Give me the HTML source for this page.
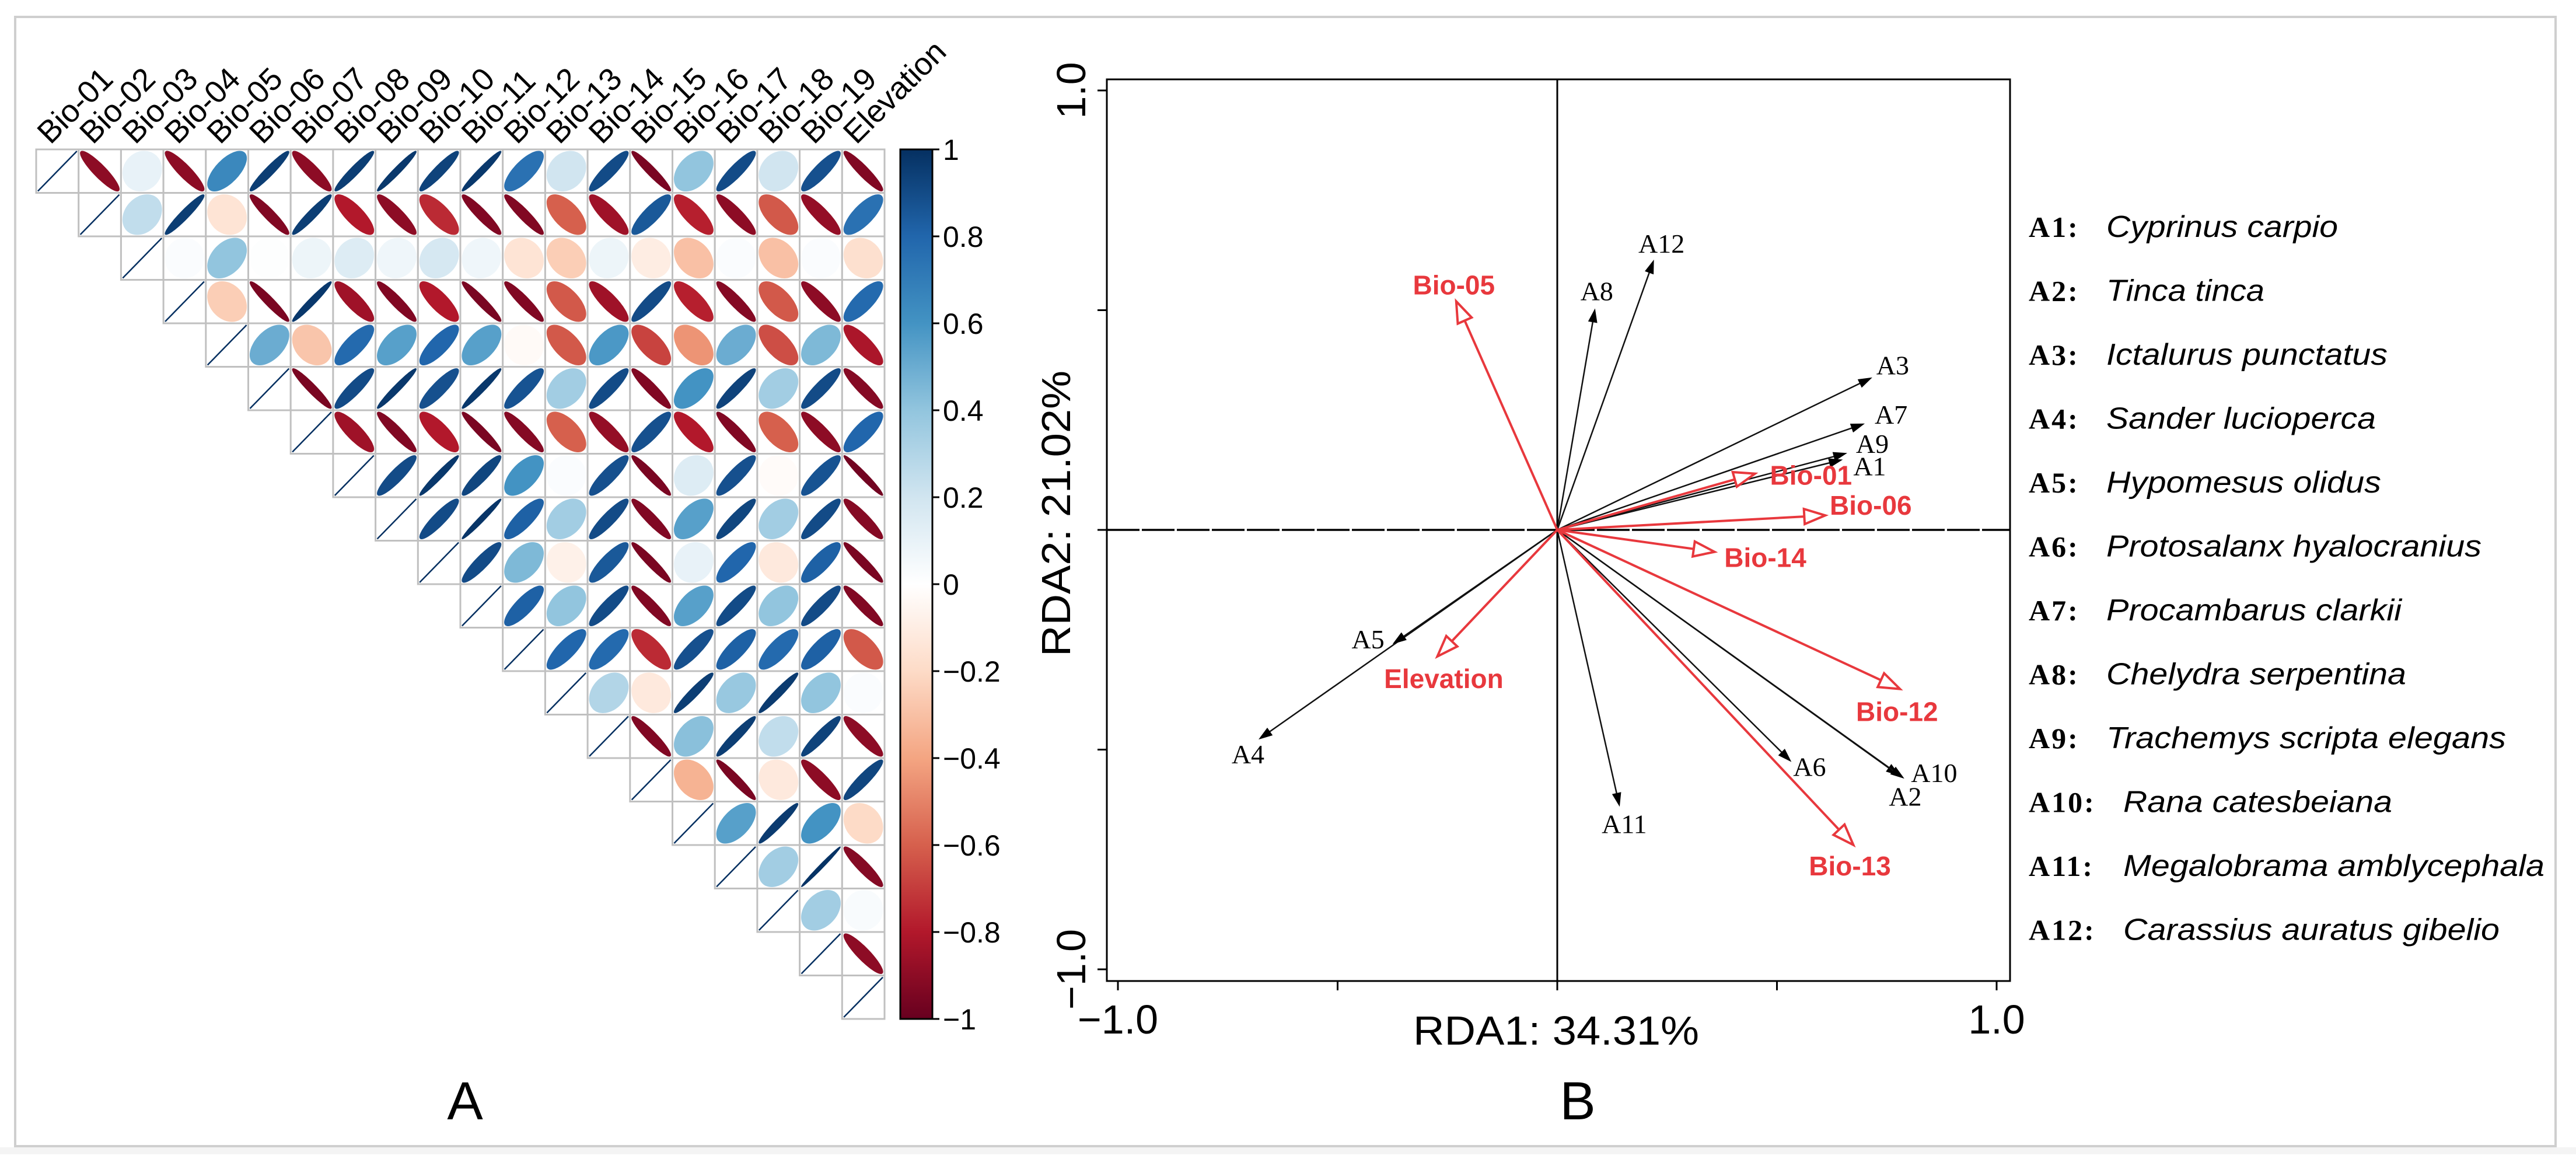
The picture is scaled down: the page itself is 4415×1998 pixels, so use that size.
<!DOCTYPE html>
<html><head><meta charset="utf-8">
<style>
html,body{margin:0;padding:0;background:#fff;}
svg{display:block;}
</style></head>
<body>
<svg id="fig" xmlns="http://www.w3.org/2000/svg" width="4415" height="1998" viewBox="0 0 4415 1998">
<rect x="0" y="1966" width="4415" height="12" fill="#f4f4f4"/>
<rect x="26" y="29" width="4354" height="1935" fill="#fff" stroke="#cfcfcf" stroke-width="4"/>
<g id="panelA"></g>
<g id="panelB"></g>
<text x="797" y="1918" font-family="Liberation Sans, sans-serif" font-size="92" text-anchor="middle">A</text>
<text x="2704" y="1918" font-family="Liberation Sans, sans-serif" font-size="92" text-anchor="middle">B</text>
</svg>
<script>
// ---------- correlation data (upper triangle, row i holds cols i+1..20) ----------
const varNames = ["Bio-01","Bio-02","Bio-03","Bio-04","Bio-05","Bio-06","Bio-07","Bio-08","Bio-09","Bio-10","Bio-11","Bio-12","Bio-13","Bio-14","Bio-15","Bio-16","Bio-17","Bio-18","Bio-19","Elevation"];
const corrRow01 = [-0.9,0.1,-0.9,0.65,0.95,-0.9,0.95,0.97,0.93,0.97,0.75,0.2,0.9,-0.95,0.4,0.9,0.2,0.88,-0.93];
const corrRow02 = [0.25,0.95,-0.15,-0.93,0.95,-0.8,-0.9,-0.75,-0.93,-0.93,-0.6,-0.85,0.85,-0.78,-0.9,-0.62,-0.88,0.75];
const corrRow03 = [0.02,0.4,0.01,0.08,0.15,0.07,0.18,0.07,-0.15,-0.25,0.08,-0.1,-0.3,0.02,-0.3,0.02,-0.17];
const corrRow04 = [-0.25,-0.95,0.97,-0.85,-0.93,-0.8,-0.95,-0.93,-0.62,-0.85,0.9,-0.78,-0.92,-0.62,-0.9,0.78];
const corrRow05 = [0.5,-0.28,0.78,0.55,0.8,0.55,-0.03,-0.62,0.58,-0.68,-0.45,0.5,-0.65,0.45,-0.82];
const corrRow06 = [-0.95,0.9,0.97,0.88,0.97,0.87,0.35,0.9,-0.93,0.6,0.93,0.35,0.9,-0.92];
const corrRow07 = [-0.85,-0.93,-0.8,-0.95,-0.92,-0.6,-0.88,0.88,-0.8,-0.93,-0.6,-0.9,0.8];
const corrRow08 = [0.9,0.97,0.92,0.6,0.02,0.88,-0.95,0.15,0.88,-0.02,0.87,-0.97];
const corrRow09 = [0.9,0.98,0.82,0.35,0.9,-0.93,0.55,0.92,0.35,0.9,-0.92];
const corrRow10 = [0.9,0.45,-0.08,0.85,-0.95,0.1,0.8,-0.12,0.82,-0.95];
const corrRow11 = [0.82,0.4,0.9,-0.93,0.55,0.9,0.4,0.9,-0.93];
const corrRow12 = [0.8,0.78,-0.75,0.88,0.82,0.78,0.82,-0.62];
const corrRow13 = [0.3,-0.12,0.95,0.38,0.96,0.4,0.02];
const corrRow14 = [-0.93,0.42,0.95,0.25,0.93,-0.9];
const corrRow15 = [-0.35,-0.95,-0.12,-0.9,0.92];
const corrRow16 = [0.55,0.96,0.6,-0.2];
const corrRow17 = [0.35,0.99,-0.92];
const corrRow18 = [0.35,0.03];
const corrRow19 = [-0.9];
const corrRows = [corrRow01,corrRow02,corrRow03,corrRow04,corrRow05,corrRow06,corrRow07,corrRow08,corrRow09,corrRow10,corrRow11,corrRow12,corrRow13,corrRow14,corrRow15,corrRow16,corrRow17,corrRow18,corrRow19,[]];
const cbarTicks = [1,0.8,0.6,0.4,0.2,0,-0.2,-0.4,-0.6,-0.8,-1];
const cbarTickLabels = ["1","0.8","0.6","0.4","0.2","0","\u22120.2","\u22120.4","\u22120.6","\u22120.8","\u22121"];

// ---------- RDA data ----------
const speciesCodes = ["A1","A2","A3","A4","A5","A6","A7","A8","A9","A10","A11","A12"];
const speciesRDA1 = [0.65,0.78,0.717,-0.68,-0.375,0.533,0.70,0.086,0.66,0.79,0.142,0.22];
const speciesRDA2 = [0.16,-0.56,0.347,-0.477,-0.26,-0.528,0.242,0.504,0.175,-0.566,-0.63,0.615];
const speciesNames = ["Cyprinus carpio","Tinca tinca","Ictalurus punctatus","Sander lucioperca","Hypomesus olidus","Protosalanx hyalocranius","Procambarus clarkii","Chelydra serpentina","Trachemys scripta elegans","Rana catesbeiana","Megalobrama amblycephala","Carassius auratus gibelio"];
const envNames = ["Bio-05","Bio-01","Bio-06","Bio-14","Bio-12","Bio-13","Elevation"];
const envRDA1 = [-0.23,0.45,0.61,0.358,0.78,0.674,-0.273];
const envRDA2 = [0.52,0.128,0.033,-0.05,-0.362,-0.717,-0.288];
const axisTicks = [-1,-0.5,0,0.5,1];

const NS = "http://www.w3.org/2000/svg";
function mk(tag, attrs, parent){const e=document.createElementNS(NS,tag);for(const k in attrs)e.setAttribute(k,attrs[k]);parent.appendChild(e);return e;}

// ---------- colour scale (RdBu) ----------
const pal = ["#67001F","#B2182B","#D6604D","#F4A582","#FDDBC7","#FFFFFF","#D1E5F0","#92C5DE","#4393C3","#2166AC","#053061"];
function hex(c){return [parseInt(c.substr(1,2),16),parseInt(c.substr(3,2),16),parseInt(c.substr(5,2),16)];}
function colorOf(r){const t=(r+1)/2*10;const i=Math.min(9,Math.floor(t));const f=t-i;const a=hex(pal[i]),b=hex(pal[i+1]);
 return "rgb("+a.map((v,k)=>Math.round(v+(b[k]-v)*f)).join(",")+")";}

// ---------- Panel A ----------
const A = document.getElementById("panelA");
const gx0=62, gy0=256, cw=72.7, ch=74.5, nV=varNames.length;
const cellX = j => gx0 + j*cw;
const cellY = i => gy0 + i*ch;
for(let i=0;i<nV;i++){
  for(let j=i;j<nV;j++){
    const r = (j===i)?1:corrRows[i][j-i-1];
    const cell = mk("rect",{x:cellX(j),y:cellY(i),width:cw,height:ch,fill:"#fff",stroke:"#c0c0c0","stroke-width":3},A);
    
    
    const cx=cellX(j)+cw/2, cy=cellY(i)+ch/2, sx=cw*0.46, sy=ch*0.46;
    const d=Math.acos(Math.max(-1,Math.min(1,r)));
    let p="";
    for(let k=0;k<=72;k++){const t=k/72*2*Math.PI;const x=Math.cos(t+d/2),y=Math.cos(t-d/2);
      p+=(k?"L":"M")+(cx+x*sx).toFixed(1)+","+(cy-y*sy).toFixed(1);}
    const col=colorOf(r);
    const el = mk("path",{d:p+"Z",fill:col,stroke:col,"stroke-width":(j===i)?2.5:1},A);
    
    
  }
}
varNames.forEach((n,j)=>{
  const x=cellX(j)+cw/2-12, y=249;
  const t=mk("text",{x:x,y:y,transform:"rotate(-45 "+x+" "+y+")","font-family":"Liberation Sans, sans-serif","font-size":54,fill:"#000"},A);
  t.textContent=n;
  
  
});
// colour bar
const cbX=1543, cbW=55, cbTop=256, cbBot=1746;
const defs=mk("defs",{},A);
const grad=mk("linearGradient",{id:"cbg",x1:0,y1:1,x2:0,y2:0},defs);
pal.forEach((c,i)=>mk("stop",{offset:(i/10),"stop-color":c},grad));
const cb=mk("rect",{x:cbX,y:cbTop,width:cbW,height:cbBot-cbTop,fill:"url(#cbg)",stroke:"#000","stroke-width":3},A);


const cbY = v => cbTop + (1-v)/2*(cbBot-cbTop);
cbarTicks.forEach((v,i)=>{
  const l=mk("line",{x1:cbX+cbW,x2:cbX+cbW+12,y1:cbY(v),y2:cbY(v),stroke:"#000","stroke-width":3},A);
  
  
  const t=mk("text",{x:1616,y:cbY(v)+18,"font-family":"Liberation Sans, sans-serif","font-size":50,fill:"#000"},A);
  t.textContent=cbarTickLabels[i];
  
  
});

// ---------- Panel B ----------
const B = document.getElementById("panelB");
const ox=2669, oy=908, unit=753;
const sxB = u => ox + u*unit;
const syB = v => oy - v*unit;
const box=mk("rect",{x:1897,y:136,width:1548,height:1545,fill:"none",stroke:"#000","stroke-width":3},B);


const hl=mk("line",{x1:1897,x2:3445,y1:syB(0),y2:syB(0),stroke:"#000","stroke-width":3.5,"stroke-dasharray":"56 4"},B);


const vl=mk("line",{x1:sxB(0),x2:sxB(0),y1:136,y2:1681,stroke:"#000","stroke-width":3},B);


axisTicks.forEach(v=>{
  const a=mk("line",{x1:sxB(v),x2:sxB(v),y1:1681,y2:1697,stroke:"#000","stroke-width":3},B);
  
  
  const b=mk("line",{x1:1881,x2:1897,y1:syB(v),y2:syB(v),stroke:"#000","stroke-width":3},B);
  
  
});
[[-1,"\u22121.0"],[1,"1.0"]].forEach(([v,s])=>{
  const t=mk("text",{x:sxB(v),y:1771,"text-anchor":"middle","font-family":"Liberation Sans, sans-serif","font-size":70},B);
  t.textContent=s;
  
  
  const y=syB(v);
  const u=mk("text",{x:1860,y:y,"text-anchor":"middle",transform:"rotate(-90 1860 "+y+")","font-family":"Liberation Sans, sans-serif","font-size":70},B);
  u.textContent=s;
  
  
});
const xt=mk("text",{x:2667,y:1790,"text-anchor":"middle","font-family":"Liberation Sans, sans-serif","font-size":70,textLength:490,lengthAdjust:"spacingAndGlyphs"},B);
xt.textContent="RDA1: 34.31%";


const yt=mk("text",{x:1834,y:880,"text-anchor":"middle",transform:"rotate(-90 1834 880)","font-family":"Liberation Sans, sans-serif","font-size":70,textLength:490,lengthAdjust:"spacingAndGlyphs"},B);
yt.textContent="RDA2: 21.02%";



function arrowHead(x,y,ang,len,wid){
  const bx=x-len*Math.cos(ang), by=y-len*Math.sin(ang);
  const px=-Math.sin(ang)*wid/2, py=Math.cos(ang)*wid/2;
  return x+","+y+" "+(bx+px)+","+(by+py)+" "+(bx-px)+","+(by-py);
}
// label offsets (pixels from arrow tip to label centre)
const spLabDX=[46,9,35,-18,-42,31,45,3,43,51,8,13];
const spLabDY=[12,36,-20,26,-8,9,-15,-29,-15,-9,30,-27];
speciesCodes.forEach((c,i)=>{
  const x=sxB(speciesRDA1[i]), y=syB(speciesRDA2[i]);
  const ang=Math.atan2(y-oy,x-ox);
  const l=mk("line",{x1:ox,y1:oy,x2:x-14*Math.cos(ang),y2:y-14*Math.sin(ang),stroke:"#111","stroke-width":2.5},B);
  
  
  const h=mk("polygon",{points:arrowHead(x,y,ang,24,16),fill:"#000"},B);
  
  
  const t=mk("text",{x:x+spLabDX[i],y:y+spLabDY[i]+15,"text-anchor":"middle","font-family":"Liberation Serif, serif","font-size":46},B);
  t.textContent=c;
  
  
});
const envLabDX=[-4,96,78,87,-5,-6,11];
const envLabDY=[-28,3,-17,10,39,36,38];
envNames.forEach((n,i)=>{
  const x=sxB(envRDA1[i]), y=syB(envRDA2[i]);
  const ang=Math.atan2(y-oy,x-ox);
  const l=mk("line",{x1:ox,y1:oy,x2:x-34*Math.cos(ang),y2:y-34*Math.sin(ang),stroke:"#E8383D","stroke-width":4},B);
  
  
  const h=mk("polygon",{points:arrowHead(x,y,ang,36,26),fill:"#fff",stroke:"#E8383D","stroke-width":4},B);
  
  
  const t=mk("text",{x:x+envLabDX[i],y:y+envLabDY[i]+16,"text-anchor":"middle","font-family":"Liberation Sans, sans-serif","font-weight":"bold","font-size":46,fill:"#E8383D"},B);
  t.textContent=n;
  
  
});
// legend
const legW=[397,271,482,462,471,643,506,514,685,461,722,645];
speciesCodes.forEach((c,i)=>{
  const y=389+i*109.5+17;
  const a=mk("text",{x:3477,y:y,"font-family":"Liberation Serif, serif","font-weight":"bold","font-size":50,"letter-spacing":"3"},B);
  a.textContent=c+":";
  
  
  const nx = i>=9 ? 3639 : 3610;
  const t=mk("text",{x:nx,y:y,"font-family":"Liberation Sans, sans-serif","font-style":"italic","font-size":52,textLength:legW[i],lengthAdjust:"spacingAndGlyphs"},B);
  t.textContent=speciesNames[i];
  
  
});
</script>
</body></html>
